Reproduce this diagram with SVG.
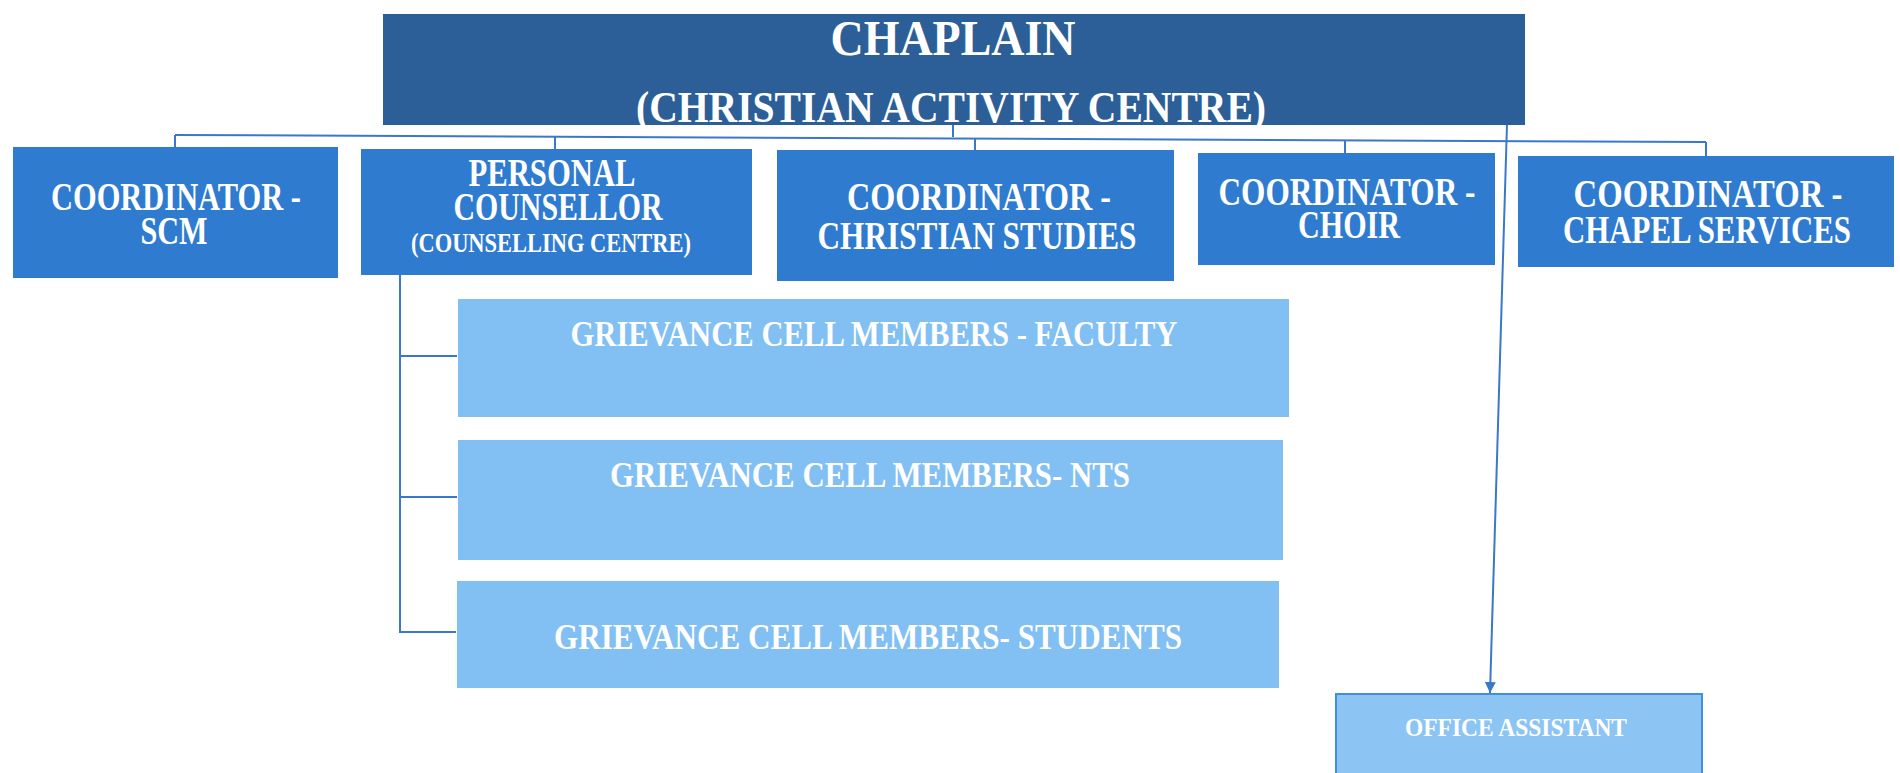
<svg xmlns="http://www.w3.org/2000/svg" width="1900" height="773" viewBox="0 0 1900 773">
<defs>
<style>
.t{font-family:"Liberation Serif","DejaVu Serif",serif;font-weight:bold;fill:#ffffff;text-anchor:middle}
.dark{fill:#2c5f97}
.mid{fill:#2f7bd0}
.light{fill:#82bff3}
.ln{stroke:#3a79c9;stroke-width:2;fill:none}
</style>
<marker id="arr" viewBox="0 0 10 10" refX="10" refY="5" markerWidth="11" markerHeight="11" markerUnits="userSpaceOnUse" orient="auto">
<path d="M0,0 L10,5 L0,10 Z" fill="#3a79c9"/>
</marker>
</defs>
<rect width="1900" height="773" fill="#ffffff"/>
<g id="connectors">
<line class="ln" x1="953" y1="124" x2="953" y2="137"/>
<line class="ln" x1="175" y1="135" x2="1706" y2="142"/>
<line class="ln" x1="175" y1="135" x2="175" y2="147"/>
<line class="ln" x1="555" y1="137" x2="555" y2="149"/>
<line class="ln" x1="975" y1="139" x2="975" y2="150"/>
<line class="ln" x1="1345" y1="141" x2="1345" y2="153"/>
<line class="ln" x1="1706" y1="142" x2="1706" y2="156"/>
<polyline class="ln" points="400,275 400,632 456,632"/>
<line class="ln" x1="400" y1="356" x2="457" y2="356"/>
<line class="ln" x1="400" y1="497" x2="457" y2="497"/>
<line class="ln" x1="1507" y1="124" x2="1490" y2="693" stroke-width="1.5" marker-end="url(#arr)"/>
</g>
<g id="chaplain">
<rect class="dark" x="383" y="14" width="1142" height="111"/>
<text class="t" x="953" y="55" font-size="50" textLength="245" lengthAdjust="spacingAndGlyphs">CHAPLAIN</text>
<text class="t" x="951" y="122" font-size="44" textLength="630" lengthAdjust="spacingAndGlyphs">(CHRISTIAN ACTIVITY CENTRE)</text>
</g>
<g id="coord-scm">
<rect class="mid" x="13" y="147" width="325" height="131"/>
<text class="t" x="176" y="210" font-size="41" textLength="250" lengthAdjust="spacingAndGlyphs">COORDINATOR -</text>
<text class="t" x="174" y="244" font-size="41" textLength="67" lengthAdjust="spacingAndGlyphs">SCM</text>
</g>
<g id="counsellor">
<rect class="mid" x="361" y="149" width="391" height="126"/>
<text class="t" x="552" y="186" font-size="40" textLength="167" lengthAdjust="spacingAndGlyphs">PERSONAL</text>
<text class="t" x="558" y="220" font-size="40" textLength="209" lengthAdjust="spacingAndGlyphs">COUNSELLOR</text>
<text class="t" x="551" y="252" font-size="27" textLength="280" lengthAdjust="spacingAndGlyphs">(COUNSELLING CENTRE)</text>
</g>
<g id="coord-christian-studies">
<rect class="mid" x="777" y="150" width="397" height="131"/>
<text class="t" x="979" y="210" font-size="41" textLength="264" lengthAdjust="spacingAndGlyphs">COORDINATOR -</text>
<text class="t" x="977" y="249" font-size="41" textLength="319" lengthAdjust="spacingAndGlyphs">CHRISTIAN STUDIES</text>
</g>
<g id="coord-choir">
<rect class="mid" x="1198" y="153" width="297" height="112"/>
<text class="t" x="1347" y="205" font-size="41" textLength="257" lengthAdjust="spacingAndGlyphs">COORDINATOR -</text>
<text class="t" x="1349" y="238" font-size="41" textLength="102" lengthAdjust="spacingAndGlyphs">CHOIR</text>
</g>
<g id="coord-chapel">
<rect class="mid" x="1518" y="156" width="376" height="111"/>
<text class="t" x="1708" y="207" font-size="41" textLength="269" lengthAdjust="spacingAndGlyphs">COORDINATOR -</text>
<text class="t" x="1707" y="243" font-size="41" textLength="288" lengthAdjust="spacingAndGlyphs">CHAPEL SERVICES</text>
</g>
<g id="grievance-faculty">
<rect class="light" x="458" y="299" width="831" height="118"/>
<text class="t" x="874" y="346" font-size="36" textLength="607" lengthAdjust="spacingAndGlyphs">GRIEVANCE CELL MEMBERS - FACULTY</text>
</g>
<g id="grievance-nts">
<rect class="light" x="458" y="440" width="825" height="120"/>
<text class="t" x="870" y="487" font-size="36" textLength="520" lengthAdjust="spacingAndGlyphs">GRIEVANCE CELL MEMBERS- NTS</text>
</g>
<g id="grievance-students">
<rect class="light" x="457" y="581" width="822" height="107"/>
<text class="t" x="868" y="649" font-size="36" textLength="628" lengthAdjust="spacingAndGlyphs">GRIEVANCE CELL MEMBERS- STUDENTS</text>
</g>
<g id="office-assistant">
<rect x="1336" y="694" width="366" height="90" fill="#8cc5f3" stroke="#3f8fe0" stroke-width="2"/>
<text class="t" x="1516" y="736" font-size="25" textLength="222" lengthAdjust="spacingAndGlyphs">OFFICE ASSISTANT</text>
</g>
</svg>
